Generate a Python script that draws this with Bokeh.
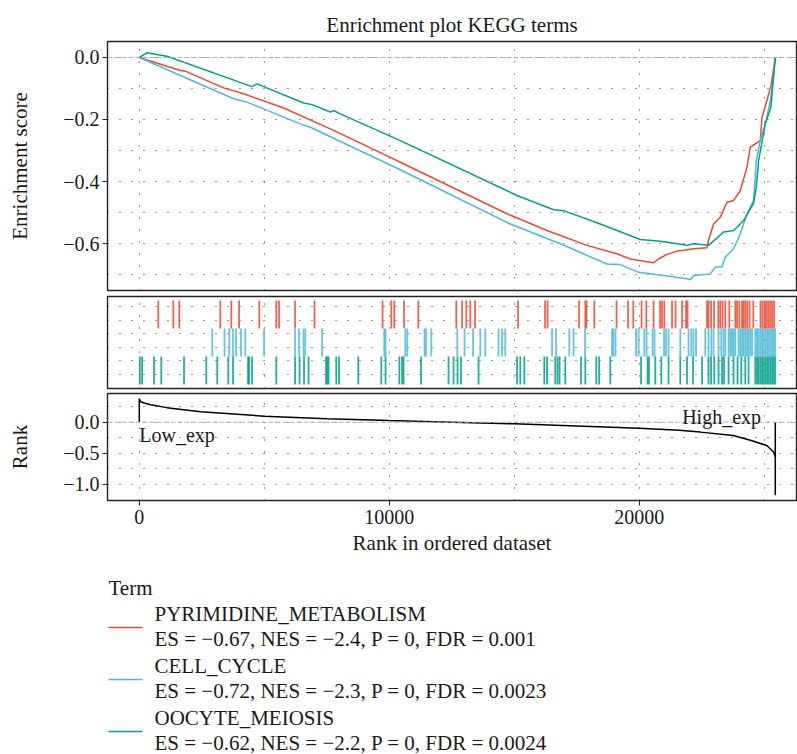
from bokeh.plotting import figure
from bokeh.layouts import column
from bokeh.models import Range1d, FixedTicker, Span, Label
from bokeh.core.properties import value
from bokeh.embed import file_html
from bokeh.resources import INLINE

# ---------------- data ----------------
title_text = "Enrichment plot KEGG terms"
terms = ["PYRIMIDINE_METABOLISM", "CELL_CYCLE", "OOCYTE_MEIOSIS"]
term_colors = ["#E64B35", "#4DBBD5", "#00A087"]
es_vals = [-0.67, -0.72, -0.62]
nes_vals = [-2.4, -2.3, -2.2]
p_vals = [0, 0, 0]
fdr_vals = ["0.001", "0.0023", "0.0024"]

pyr_rank = [0, 1640, 1840, 3373, 4173, 5773, 7773, 10040, 10440, 14707, 16307, 17907, 19107, 19640,
            20573, 20773, 21107, 21507, 22173, 22707, 22773, 22973, 23240, 23507, 23773, 24040, 24307,
            24440, 24840, 24907, 25107, 25267, 25440]
pyr_es = [0, -0.042, -0.044, -0.098, -0.117, -0.163, -0.235, -0.322, -0.338, -0.504, -0.558, -0.606,
          -0.633, -0.650, -0.662, -0.650, -0.635, -0.625, -0.617, -0.614, -0.588, -0.537, -0.515,
          -0.467, -0.461, -0.429, -0.354, -0.289, -0.268, -0.193, -0.139, -0.090, 0.0]

cc_rank = [0, 3773, 4307, 6440, 6840, 10440, 14840, 16840, 18707, 19240, 19973, 20973, 21907, 22040,
           22173, 22840, 23040, 23307, 23440, 23773, 24040, 24307, 24573, 24680, 24840, 25040, 25240,
           25373, 25440]
cc_es = [0, -0.133, -0.144, -0.214, -0.225, -0.362, -0.537, -0.601, -0.666, -0.668, -0.693, -0.703,
         -0.714, -0.717, -0.703, -0.698, -0.676, -0.676, -0.644, -0.617, -0.569, -0.504, -0.461,
         -0.332, -0.268, -0.214, -0.139, -0.053, 0.0]

ooc_rank = [0, 307, 1107, 4507, 4707, 4973, 6573, 6907, 7640, 7773, 8040, 10440, 15107, 16573, 16973,
            18440, 20040, 20840, 21907, 22173, 22773, 23373, 23773, 24173, 24573, 24680, 24773, 25040,
            25267, 25347, 25440]
ooc_es = [0, 0.015, 0.004, -0.094, -0.085, -0.094, -0.147, -0.152, -0.176, -0.171, -0.182, -0.268,
          -0.445, -0.491, -0.494, -0.537, -0.587, -0.593, -0.606, -0.601, -0.606, -0.563, -0.558,
          -0.526, -0.470, -0.418, -0.332, -0.214, -0.160, -0.085, 0.0]

pyr_hits = [760, 1360, 1600, 3240, 3680, 3990, 4800, 5480, 5590, 6230, 7010, 9730, 10080, 10200,
            10590, 11160, 12680, 12910, 13080, 13240, 13430, 15150, 16230, 16330, 17590, 17840, 17890,
            18200, 19090, 19550, 19760, 20090, 20280, 20570, 20830, 20910, 21000, 21310, 21450, 21710,
            21870, 21930, 22710, 22770, 22870, 22990, 23160, 23240, 23330, 23440, 23600, 23840, 23910,
            24000, 24110, 24170, 24240, 24320, 24410, 24560, 24850, 24930, 25010, 25070, 25150, 25230,
            25310, 25390]
cc_hits = [2920, 3410, 3600, 3750, 3870, 4070, 4240, 4990, 6230, 6390, 6570, 6640, 7310, 9800, 9850,
           10640, 10720, 11410, 11470, 11680, 12720, 13010, 13350, 13640, 13840, 14370, 14510, 14640,
           16510, 16670, 17200, 17370, 17830, 18910, 18970, 19050, 19870, 19970, 20200, 20290, 20530,
           20610, 20990, 21070, 21170, 21640, 21970, 22080, 22170, 22270, 22640, 22770, 22880, 22970,
           23170, 23280, 23370, 23440, 23570, 23640, 23710, 23770, 23840, 23970, 24040, 24110, 24170,
           24240, 24310, 24370, 24440, 24510, 24640, 24710, 24770, 24840, 24910, 24970, 25040, 25110,
           25170, 25240, 25310, 25370, 25430]
ooc_hits = [20, 110, 590, 880, 1790, 2680, 3120, 3560, 3750, 4350, 4390, 4510, 5480, 6230, 6410, 6590,
            6770, 7470, 7520, 7570, 7880, 7990, 8760, 9680, 9850, 10400, 10510, 10570, 11270, 12370,
            12570, 12730, 12870, 13570, 15110, 15240, 15400, 16200, 16310, 16640, 16730, 16810, 17040,
            17670, 17840, 18280, 18390, 18840, 20070, 20330, 20390, 20640, 20880, 21170, 21640, 21910,
            22150, 22510, 22770, 22870, 23000, 23170, 23310, 23390, 23570, 23770, 23930, 24080, 24240,
            24370, 24640, 24710, 24770, 24840, 24910, 24970, 25040, 25110, 25170, 25240, 25310, 25370,
            25430]

metric_rank = [0, 0, 60, 190, 450, 1100, 2450, 5000, 7500, 10000, 12500, 15000, 17500, 20000, 21600,
               22440, 23760, 24440, 25100, 25370, 25440]
metric_val = [0.0, 0.377, 0.33, 0.31, 0.28, 0.235, 0.17, 0.097, 0.055, 0.027, 0.0, -0.026, -0.06,
              -0.097, -0.13, -0.16, -0.215, -0.29, -0.376, -0.48, -0.56]
metric_end_min = -1.18

es_ticks = [0.0, -0.2, -0.4, -0.6]
es_tick_labels = ["0.0", "\u22120.2", "\u22120.4", "\u22120.6"]
rank_ticks = [0.0, -0.5, -1.0]
rank_tick_labels = ["0.0", "\u22120.5", "\u22121.0"]
x_ticks = [0, 10000, 20000]
x_tick_labels = ["0", "10000", "20000"]

curves = [(pyr_rank, pyr_es), (cc_rank, cc_es), (ooc_rank, ooc_es)]
hits = [pyr_hits, cc_hits, ooc_hits]

# ---------------- styling ----------------
FONT = "Liberation Serif"
TXT = "#1a1a1a"
W = 797
LEFT = 107
x_range = Range1d(-1272, 26288)


def style_grid(p):
    for g in list(p.xgrid) + list(p.ygrid):
        g.grid_line_color = "#333333"
        g.grid_line_dash = "1 11"
        g.grid_line_width = 1
        g.minor_grid_line_color = "#333333"
        g.minor_grid_line_dash = "1 11"
        g.minor_grid_line_width = 1


def base(height, y_range, top, bottom, title=None):
    p = figure(width=W, height=height, x_range=x_range, y_range=y_range,
               output_backend="svg", toolbar_location=None,
               min_border_left=LEFT, min_border_right=1,
               min_border_top=top, min_border_bottom=bottom, title=title)
    p.outline_line_color = "#222222"
    p.outline_line_width = 1.4
    p.background_fill_color = "white"
    p.border_fill_color = "white"
    p.xgrid.ticker = FixedTicker(ticks=x_ticks, minor_ticks=[5000, 15000, 25000])
    return p


def style_yaxis(ax, label):
    ax.axis_label = label
    ax.axis_label_text_font = FONT
    ax.axis_label_text_font_size = "21px"
    ax.axis_label_text_font_style = "normal"
    ax.axis_label_text_color = TXT
    ax.axis_label_standoff = 28
    ax.major_label_text_font = FONT
    ax.major_label_text_font_size = "20px"
    ax.major_label_text_color = TXT
    ax.major_label_standoff = 3
    ax.major_tick_out = 5
    ax.major_tick_in = 0
    ax.major_tick_line_color = "#222222"
    ax.minor_tick_line_color = None
    ax.axis_line_color = None


# ---- top: running enrichment score ----
p1 = base(293, Range1d(-0.7516, 0.0516), 41, 3, title=title_text)
p1.title.text_font = FONT
p1.title.text_font_size = "21px"
p1.title.text_font_style = "normal"
p1.title.text_color = TXT
p1.title.align = "center"
p1.xaxis.visible = False
p1.yaxis.ticker = FixedTicker(ticks=es_ticks, minor_ticks=[-0.1, -0.3, -0.5, -0.7])
p1.yaxis.major_label_overrides = dict(zip(es_ticks, es_tick_labels))
style_yaxis(p1.yaxis[0], "Enrichment score")
style_grid(p1)
p1.add_layout(Span(location=0, dimension="width", line_color="#b0b0b0",
                   line_dash="5 2", line_width=1))
for (xs, ys), c in zip(curves, term_colors):
    p1.line(xs, ys, line_color=c, line_width=1.5)

# ---- middle: hit ticks ----
p2 = base(97, Range1d(-0.143, 3.143), 3, 2)
p2.xaxis.visible = False
p2.yaxis.visible = False
p2.ygrid.ticker = FixedTicker(ticks=[0.36, 0.86, 1.33, 1.82, 2.29, 2.79])
style_grid(p2)
for i, (h, c) in enumerate(zip(hits, term_colors)):
    lo = 2 - i
    p2.segment(x0=h, y0=[lo] * len(h), x1=h, y1=[lo + 1] * len(h),
               line_color=c, line_width=1.8, line_alpha=0.85)

# ---- bottom: ranked list metric ----
p3 = base(170, Range1d(-1.263, 0.463), 3, 60)
p3.yaxis.ticker = FixedTicker(ticks=rank_ticks, minor_ticks=[0.25, -0.25, -0.75])
p3.yaxis.major_label_overrides = dict(zip(rank_ticks, rank_tick_labels))
style_yaxis(p3.yaxis[0], "Rank")
xa = p3.xaxis[0]
xa.ticker = FixedTicker(ticks=x_ticks, minor_ticks=[5000, 15000, 25000])
xa.major_label_overrides = dict(zip(x_ticks, x_tick_labels))
xa.axis_label = "Rank in ordered dataset"
xa.axis_label_text_font = FONT
xa.axis_label_text_font_size = "21px"
xa.axis_label_text_font_style = "normal"
xa.axis_label_text_color = TXT
xa.axis_label_standoff = 4
xa.major_label_text_font = FONT
xa.major_label_text_font_size = "20px"
xa.major_label_text_color = TXT
xa.major_label_standoff = 4
xa.major_tick_out = 5
xa.major_tick_in = 0
xa.major_tick_line_color = "#222222"
xa.minor_tick_line_color = None
xa.axis_line_color = None
style_grid(p3)
p3.add_layout(Span(location=0, dimension="width", line_color="#b0b0b0",
                   line_dash="5 2", line_width=1))
p3.line(metric_rank, metric_val, line_color="black", line_width=1.5)
p3.segment(x0=[metric_rank[-1]], y0=[0], x1=[metric_rank[-1]], y1=[metric_end_min],
           line_color="black", line_width=1.5)
p3.add_layout(Label(x=0, y=-0.2, text="Low_exp", text_align="left",
                    text_baseline="alphabetic", text_font=FONT,
                    text_font_size="20px", text_color=TXT))
p3.add_layout(Label(x=24870, y=0.08, text="High_exp", text_align="right",
                    text_baseline="alphabetic", text_font=FONT,
                    text_font_size="20px", text_color=TXT))

# ---- legend (pixel-like coordinates, frame aligned with the panels above) ----
pl = figure(width=W, height=194, x_range=Range1d(LEFT, W - 1), y_range=Range1d(194, 0),
            output_backend="svg", toolbar_location=None,
            x_axis_location=None, y_axis_location=None,
            min_border_left=LEFT, min_border_right=1, min_border_top=0, min_border_bottom=0)
pl.outline_line_color = None
pl.grid.visible = False
pl.text(x=[108], y=[27], text=["Term"], text_font=value(FONT), text_font_size="21px",
        text_baseline="middle", text_color=TXT)
n = len(terms)
stats = ["ES = %s, NES = %s, P = %s, FDR = %s" % (str(e).replace("-", "\u2212"),
                                                   str(ne).replace("-", "\u2212"), pv, fd)
         for e, ne, pv, fd in zip(es_vals, nes_vals, p_vals, fdr_vals)]
ys_key = [67 + 52 * i for i in range(n)]
pl.segment(x0=[108] * n, y0=ys_key, x1=[142] * n, y1=ys_key, line_color=term_colors, line_width=1.5)
pl.text(x=[154] * n, y=[53 + 52 * i for i in range(n)], text=terms, text_font=value(FONT),
        text_font_size="21px", text_baseline="middle", text_color=TXT)
pl.text(x=[154] * n, y=[78 + 52 * i for i in range(n)], text=stats, text_font=value(FONT),
        text_font_size="21px", text_baseline="middle", text_color=TXT)

layout = column(p1, p2, p3, pl, spacing=0)
open("out.html", "w").write(file_html(layout, INLINE))
